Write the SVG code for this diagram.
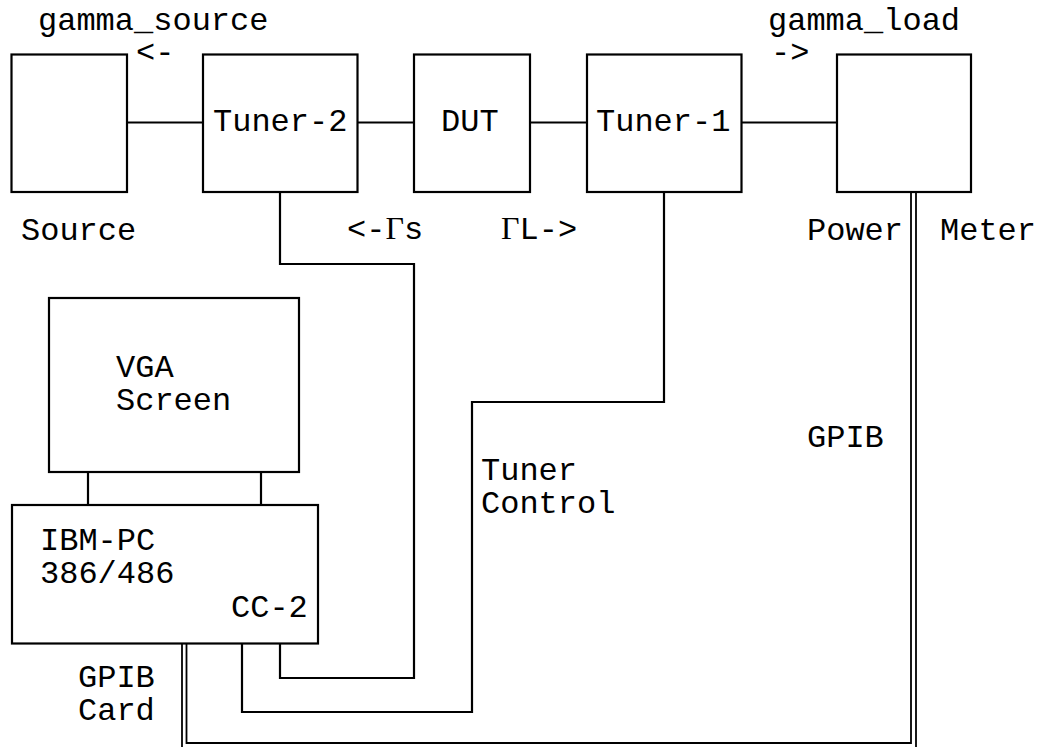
<svg xmlns="http://www.w3.org/2000/svg" width="1039" height="747" viewBox="0 0 1039 747">
<style>
.box{fill:none;stroke:#000;stroke-width:2.2}
.ln{fill:none;stroke:#000;stroke-width:2.2}
.dl{fill:none;stroke:#000;stroke-width:1.8}
text{font-family:"Liberation Mono","Courier New",monospace;font-size:32px;fill:#000}
.g{font-family:"Liberation Serif","Times New Roman",serif}
</style>
<rect width="1039" height="747" fill="#fff"/>
<g id="source"><rect class="box" x="11.5" y="54.5" width="115.5" height="137.5"/><text x="21" y="240">Source</text></g>
<g id="tuner2"><rect class="box" x="203" y="54.5" width="154.5" height="137.5"/><text x="213" y="131">Tuner-2</text></g>
<g id="dut"><rect class="box" x="414" y="54.5" width="116" height="137.5"/><text x="441" y="131">DUT</text></g>
<g id="tuner1"><rect class="box" x="587" y="54.5" width="154.5" height="137.5"/><text x="596" y="131">Tuner-1</text></g>
<g id="powermeter"><rect class="box" x="837" y="54.5" width="134" height="137.5"/><text x="807" y="240">Power</text><text x="940" y="240">Meter</text></g>
<g id="vga"><rect class="box" x="49" y="298" width="250" height="174"/><text x="116" y="377">VGA</text><text x="116" y="410">Screen</text></g>
<g id="pc"><rect class="box" x="12" y="505" width="306" height="138.5"/><text x="40" y="550">IBM-PC</text><text x="40" y="583">386/486</text><text x="231" y="617">CC-2</text></g>
<g id="labels">
<text x="38" y="30">gamma_source</text>
<text x="136" y="62">&lt;-</text>
<text x="768" y="30">gamma_load</text>
<text x="771" y="62">-&gt;</text>
<text x="347" y="239">&lt;-<tspan class="g">Γ</tspan>s</text>
<text x="501" y="239"><tspan class="g">Γ</tspan>L-&gt;</text>
<text x="807" y="447">GPIB</text>
<text x="481" y="480">Tuner</text>
<text x="481" y="513">Control</text>
<text x="78" y="687">GPIB</text>
<text x="78" y="720">Card</text>
</g>
<g id="connectors">
<line class="ln" x1="127" y1="122.5" x2="203" y2="122.5"/>
<line class="ln" x1="357.5" y1="122.5" x2="414" y2="122.5"/>
<line class="ln" x1="530" y1="122.5" x2="587" y2="122.5"/>
<line class="ln" x1="741.5" y1="122.5" x2="837" y2="122.5"/>
<line class="ln" x1="88" y1="472" x2="88" y2="505"/>
<line class="ln" x1="261" y1="472" x2="261" y2="505"/>
<polyline class="ln" points="280,192 280,264 414,264 414,678 280,678 280,643.5"/>
<polyline class="ln" points="664,192 664,402 472,402 472,712 242,712 242,643.5"/>
<polyline class="dl" points="911,192 911,743 186.5,743 186.5,643.5"/>
<polyline class="dl" points="916,192 916,750"/>
<polyline class="dl" points="182,643.5 182,750"/>
</g>
</svg>
